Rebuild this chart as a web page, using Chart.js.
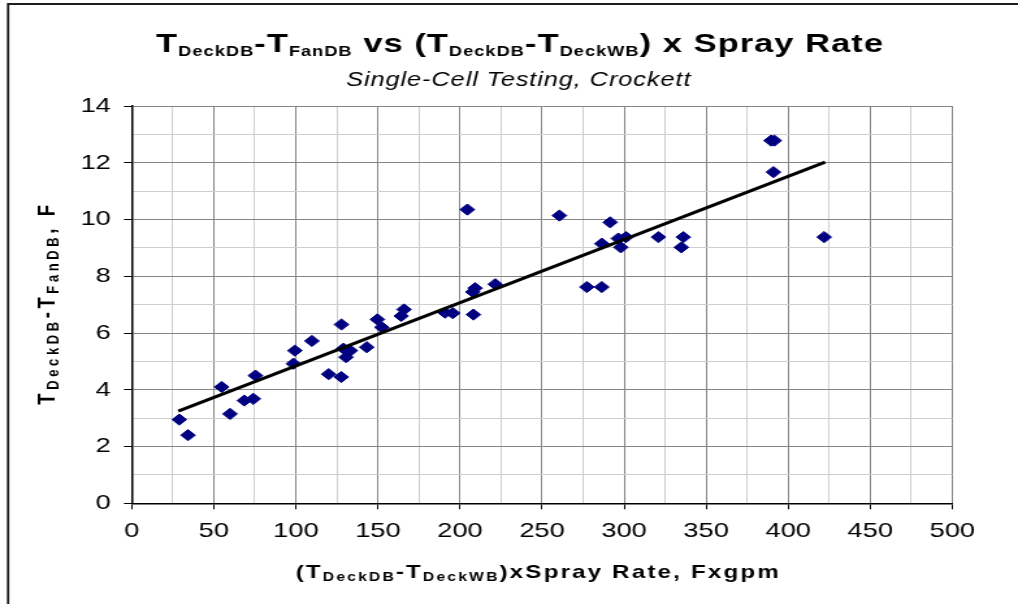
<!DOCTYPE html>
<html>
<head>
<meta charset="utf-8">
<title>TDeckDB-TFanDB vs (TDeckDB-TDeckWB) x Spray Rate</title>
<script src="https://cdn.jsdelivr.net/npm/chart.js@4.4.1/dist/chart.umd.min.js"></script>
<style>
  html, body { margin: 0; padding: 0; background: #fff; }
  /* the original picture is a widened Excel chart, so the canvas is drawn narrow and stretched */
  #chart { display: block; width: 1018px !important; height: 604px !important; }
</style>
</head>
<body>
<canvas id="chart" width="783" height="604" style="width:1018px;height:604px"></canvas>
<script>
// (TDeckDB - TDeckWB) x spray rate, Fxgpm
const sprayProduct = [
  29.0, 34.3, 54.8, 59.9, 68.6, 74.1, 75.4, 98.5, 99.4, 109.8,
  120.0, 127.7, 127.8, 129.0, 130.6, 133.2, 143.2, 149.7, 152.4, 164.2,
  165.9, 190.9, 195.6, 204.5, 207.8, 208.2, 209.2, 221.5, 260.6, 277.3,
  286.4, 286.4, 291.5, 296.5, 298.0, 301.2, 320.9, 334.9, 336.1, 389.5,
  391.5, 391.0, 421.9
];
// TDeckDB - TFanDB, F
const deckFanDelta = [
  2.95, 2.40, 4.10, 3.15, 3.62, 3.68, 4.50, 4.92, 5.38, 5.72,
  4.55, 4.45, 6.30, 5.45, 5.15, 5.38, 5.50, 6.48, 6.20, 6.60,
  6.83, 6.72, 6.70, 10.35, 7.45, 6.65, 7.58, 7.72, 10.14, 7.62,
  7.62, 9.15, 9.90, 9.33, 9.02, 9.38, 9.38, 9.02, 9.38, 12.78,
  12.78, 11.67, 9.38
];
// linear trendline, end points as drawn
const trendX = [28.4, 422.5];
const trendY = [3.25, 12.02];

const FONT = 'Arial, "Liberation Sans", sans-serif';

// text pieces: [text, isSubscript]
const titleParts = [['T'], ['DeckDB', 1], ['-T'], ['FanDB', 1], [' vs (T'], ['DeckDB', 1], ['-T'], ['DeckWB', 1], [') x Spray Rate']];
const subtitle = 'Single-Cell Testing, Crockett';
const xLabelParts = [['(T'], ['DeckDB', 1], ['-T'], ['DeckWB', 1], [')xSpray Rate, Fxgpm']];
const yLabelParts = [['T'], ['DeckDB', 1], ['-T'], ['FanDB', 1], [', F']];

const points = sprayProduct.map((x, i) => ({ x: x, y: deckFanDelta[i] }));
const trend = trendX.map((x, i) => ({ x: x, y: trendY[i] }));

// draws a line of text with subscripts, centred on x
const drawRich = (ctx, parts, x, y, st) => {
  const runs = parts.map((p) => {
    ctx.font = p[1] ? st.sub : st.main;
    ctx.letterSpacing = st.ls + 'px';
    return { text: p[0], sub: !!p[1], w: ctx.measureText(p[0]).width };
  });
  const total = runs.reduce((s, r) => s + r.w, 0);
  let cx = x - total / 2;
  runs.forEach((r) => {
    ctx.font = r.sub ? st.sub : st.main;
    ctx.letterSpacing = st.ls + 'px';
    ctx.fillText(r.text, cx, y + (r.sub ? st.dy : 0));
    cx += r.w;
  });
};

const textPlugin = {
  id: 'excelText',
  beforeDraw(chart) {
    const ctx = chart.ctx;
    ctx.save();
    ctx.strokeStyle = '#1e1e1e';
    ctx.lineWidth = 1.8;
    ctx.beginPath();
    ctx.moveTo(6.2, 700);
    ctx.lineTo(6.2, 4);
    ctx.lineTo(900, 4);
    ctx.stroke();
    ctx.restore();
  },
  afterDraw(chart) {
    const ctx = chart.ctx;
    ctx.save();
    ctx.fillStyle = '#000';
    ctx.textBaseline = 'alphabetic';
    ctx.textAlign = 'left';
    drawRich(ctx, titleParts, 400, 52, { main: 'bold 26.5px ' + FONT, sub: 'bold 14px ' + FONT, dy: 3.5, ls: 0.8 });
    drawRich(ctx, [[subtitle]], 399, 86, { main: 'italic 19.5px ' + FONT, sub: '', dy: 0, ls: 0.7 });
    drawRich(ctx, xLabelParts, 414, 578, { main: 'bold 18.5px ' + FONT, sub: 'bold 12px ' + FONT, dy: 3, ls: 1.7 });
    ctx.translate(36, 303);
    ctx.rotate(-Math.PI / 2);
    drawRich(ctx, yLabelParts, 0, 6, { main: 'bold 18.5px ' + FONT, sub: 'bold 13px ' + FONT, dy: 3, ls: 3.6 });
    ctx.restore();
  }
};

const majorGrid = '#858585';
const minorGrid = '#cecece';

new Chart(document.getElementById('chart'), {
  type: 'scatter',
  data: {
    datasets: [
      {
        label: 'Linear trend',
        data: trend,
        showLine: true,
        borderColor: '#000',
        borderWidth: 3,
        pointRadius: 0
      },
      {
        label: 'Single-cell tests',
        data: points,
        pointStyle: 'rectRot',
        pointRadius: 5.6,
        backgroundColor: '#000080',
        borderColor: '#000080',
        borderWidth: 1
      }
    ]
  },
  options: {
    responsive: false,
    devicePixelRatio: 1,
    animation: false,
    layout: { padding: { top: 106, right: 50.5, bottom: 0, left: 0 } },
    plugins: {
      legend: { display: false },
      tooltip: { enabled: false }
    },
    scales: {
      x: {
        type: 'linear',
        min: 0,
        max: 500,
        afterFit: (scale) => { scale.height = 100.7; },
        ticks: {
          stepSize: 25,
          autoSkip: false,
          maxRotation: 0,
          padding: 9,
          color: '#000',
          font: { family: FONT, size: 21 },
          callback: (v) => (v % 50 === 0 ? v : '')
        },
        grid: {
          color: (c) => (c.tick && c.tick.value % 50 === 0 ? majorGrid : minorGrid),
          tickColor: (c) => (c.tick && c.tick.value % 50 === 0 ? '#000' : 'rgba(0,0,0,0)'),
          tickLength: 6
        },
        border: { color: '#000', width: 1.5 }
      },
      y: {
        type: 'linear',
        min: 0,
        max: 14,
        afterFit: (scale) => { scale.width = 101.3; },
        ticks: {
          stepSize: 1,
          autoSkip: false,
          padding: 10,
          color: '#000',
          font: { family: FONT, size: 21 },
          callback: (v) => (v % 2 === 0 ? v : '')
        },
        grid: {
          color: (c) => (c.tick && c.tick.value % 2 === 0 ? majorGrid : minorGrid),
          tickColor: (c) => (c.tick && c.tick.value % 2 === 0 ? '#000' : 'rgba(0,0,0,0)'),
          tickLength: 6
        },
        border: { color: '#000', width: 1.5 }
      }
    }
  },
  plugins: [textPlugin]
});
</script>
</body>
</html>
